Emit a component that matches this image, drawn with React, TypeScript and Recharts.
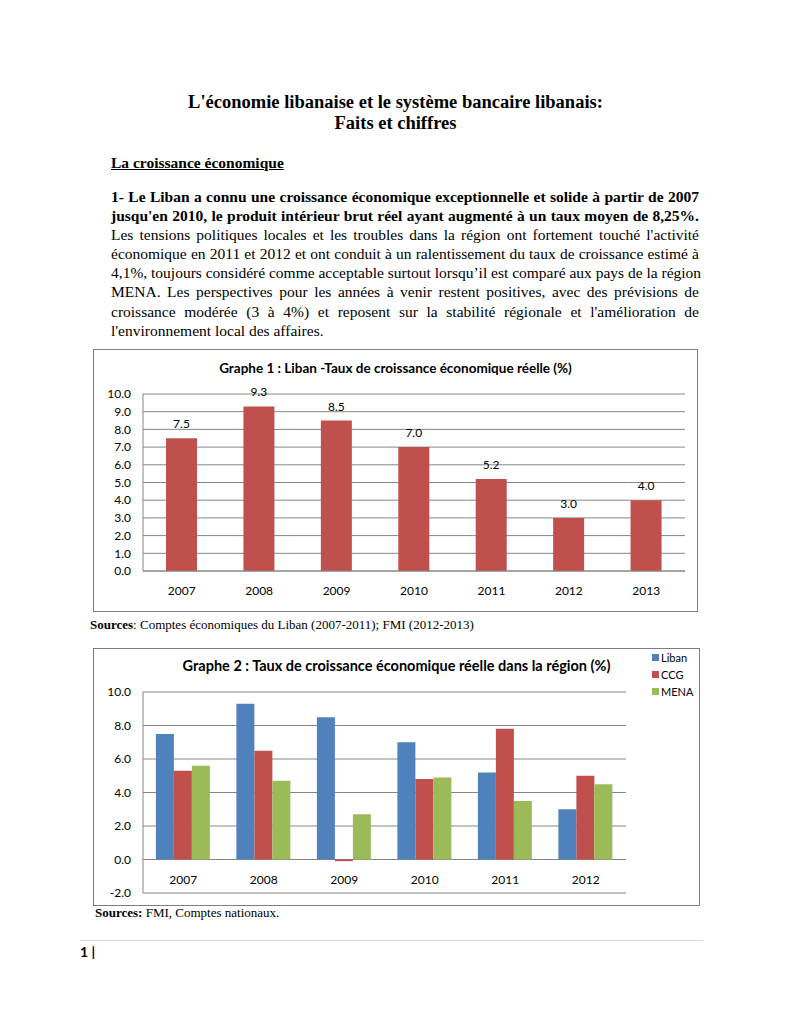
import React from "react";
import {
  BarChart,
  Bar,
  XAxis,
  YAxis,
  CartesianGrid,
  LabelList,
} from "recharts";

// Graphe 1
const years1 = ["2007", "2008", "2009", "2010", "2011", "2012", "2013"];
const liban1 = [7.5, 9.3, 8.5, 7.0, 5.2, 3.0, 4.0];
const ticks1 = [0, 1, 2, 3, 4, 5, 6, 7, 8, 9, 10];

// Graphe 2
const years2 = ["2007", "2008", "2009", "2010", "2011", "2012"];
const liban2 = [7.5, 9.3, 8.5, 7.0, 5.2, 3.0];
const ccg2 = [5.3, 6.5, -0.1, 4.8, 7.8, 5.0];
const mena2 = [5.6, 4.7, 2.7, 4.9, 3.5, 4.5];
const ticks2 = [-2, 0, 2, 4, 6, 8, 10];

const series2 = [
  { key: "liban", name: "Liban", color: "#4F81BD" },
  { key: "ccg", name: "CCG", color: "#C0504D" },
  { key: "mena", name: "MENA", color: "#9BBB59" },
];

const data1 = years1.map((y, i) => ({ year: y, value: liban1[i] }));
const data2 = years2.map((y, i) => ({
  year: y,
  liban: liban2[i],
  ccg: ccg2[i],
  mena: mena2[i],
}));

const chartFont = "Lato, 'Open Sans', sans-serif";
const serif = "'Liberation Serif', 'Times New Roman', serif";
const grid = "#868686";

const fmt = (v: number) => v.toFixed(1);

const paraLines = [
  { text: "1- Le Liban a connu une croissance économique exceptionnelle et solide à partir de 2007", bold: true },
  { text: "jusqu'en 2010, le produit intérieur brut réel ayant augmenté à un taux moyen de 8,25%.", bold: true },
  { text: "Les tensions politiques locales et les troubles dans la région ont fortement touché l'activité", bold: false },
  { text: "économique en 2011 et 2012 et ont conduit à un ralentissement du taux de croissance estimé à", bold: false },
  { text: "4,1%, toujours considéré comme acceptable surtout lorsqu’il est comparé aux pays de la région", bold: false },
  { text: "MENA. Les perspectives pour les années à venir restent positives, avec des prévisions de", bold: false },
  { text: "croissance modérée (3 à 4%) et reposent sur la stabilité régionale et l'amélioration de", bold: false },
  { text: "l'environnement local des affaires.", bold: false },
];

function Year2Tick(props: any) {
  const { x, y, payload } = props;
  return (
    <text x={x} y={y - 17} textAnchor="middle" fontSize={12} fill="#000" fontFamily={chartFont}>
      {payload.value}
    </text>
  );
}

export default function App() {
  return (
    <div
      style={{
        position: "relative",
        width: 791,
        height: 1024,
        background: "#fff",
        fontFamily: serif,
        color: "#000",
      }}
    >
      <style>{`body{margin:0}`}</style>

      {/* Title */}
      <div
        style={{
          position: "absolute",
          top: 92,
          left: 0,
          width: 791,
          textAlign: "center",
          fontWeight: "bold",
          fontSize: 18.5,
          lineHeight: "21px",
        }}
      >
        L'économie libanaise et le système bancaire libanais:
        <br />
        Faits et chiffres
      </div>

      <div
        style={{
          position: "absolute",
          top: 153,
          left: 111,
          fontWeight: "bold",
          fontSize: 15.5,
          lineHeight: "19px",
          textDecoration: "underline",
        }}
      >
        La croissance économique
      </div>

      <div style={{ position: "absolute", top: 187, left: 111, width: 588 }}>
        {paraLines.map((l, i) => (
          <div
            key={i}
            style={{
              fontSize: 15.5,
              lineHeight: "19.1px",
              fontWeight: l.bold ? "bold" : "normal",
              textAlign: "justify",
              textAlignLast: i === paraLines.length - 1 ? "left" : "justify",
              whiteSpace: "nowrap",
            }}
          >
            {l.text}
          </div>
        ))}
      </div>

      {/* Graphe 1 */}
      <div style={{ position: "absolute", left: 93, top: 349, width: 605, height: 263 }}>
        <div
          style={{
            position: "absolute",
            inset: 0,
            border: "1px solid #7f7f7f",
            boxSizing: "border-box",
          }}
        />
        <div
          style={{
            position: "absolute",
            top: 11,
            left: 0,
            width: 605,
            textAlign: "center",
            fontFamily: chartFont,
            fontWeight: "bold",
            fontSize: 13.5,
          }}
        >
          Graphe 1 : Liban -Taux de croissance économique réelle (%)
        </div>
        <div style={{ position: "absolute", left: 0, top: 0 }}>
          <BarChart
            width={605}
            height={263}
            data={data1}
            margin={{ top: 45, right: 13, left: 0, bottom: 0 }}
          >
            <CartesianGrid vertical={false} stroke={grid} />
            <XAxis
              dataKey="year"
              height={41}
              axisLine={{ stroke: grid }}
              tickLine={false}
              tickMargin={9}
              tick={{ fontSize: 12, fill: "#000", fontFamily: chartFont }}
            />
            <YAxis
              width={50}
              domain={[0, 10]}
              ticks={ticks1}
              interval={0}
              tickFormatter={fmt}
              axisLine={{ stroke: grid }}
              tickLine={false}
              tickMargin={6}
              tick={{ fontSize: 12, fill: "#000", fontFamily: chartFont }}
            />
            <Bar dataKey="value" fill="#C0504D" barSize={31} isAnimationActive={false}>
              <LabelList
                dataKey="value"
                position="top"
                offset={10}
                formatter={(v: any) => fmt(Number(v))}
                style={{ fontSize: 12, fill: "#000", fontFamily: chartFont }}
              />
            </Bar>
          </BarChart>
        </div>
      </div>

      <div style={{ position: "absolute", left: 90, top: 617, fontSize: 13, lineHeight: "16px" }}>
        <b>Sources</b>: Comptes économiques du Liban (2007-2011); FMI (2012-2013)
      </div>

      {/* Graphe 2 */}
      <div style={{ position: "absolute", left: 93, top: 648, width: 607, height: 258 }}>
        <div
          style={{
            position: "absolute",
            inset: 0,
            border: "1px solid #7f7f7f",
            boxSizing: "border-box",
          }}
        />
        <div
          style={{
            position: "absolute",
            top: 9,
            left: 0,
            width: 607,
            textAlign: "center",
            fontFamily: chartFont,
            fontWeight: "bold",
            fontSize: 14.5,
          }}
        >
          Graphe 2 : Taux de croissance économique réelle dans la région (%)
        </div>
        <div style={{ position: "absolute", left: 0, top: 0 }}>
          <BarChart
            width={607}
            height={258}
            data={data2}
            barCategoryGap="16%"
            barGap={0}
            margin={{ top: 44, right: 74, left: 0, bottom: 0 }}
          >
            <CartesianGrid vertical={false} stroke={grid} />
            <XAxis
              dataKey="year"
              height={13}
              axisLine={false}
              tickLine={false}
              tick={<Year2Tick />}
            />
            <YAxis
              width={50}
              domain={[-2, 10]}
              ticks={ticks2}
              interval={0}
              tickFormatter={fmt}
              axisLine={{ stroke: grid }}
              tickLine={false}
              tickMargin={6}
              tick={{ fontSize: 12, fill: "#000", fontFamily: chartFont }}
            />
            {series2.map((s) => (
              <Bar
                key={s.key}
                dataKey={s.key}
                name={s.name}
                fill={s.color}
                isAnimationActive={false}
              />
            ))}
          </BarChart>
        </div>
        <div style={{ position: "absolute", left: 559, top: 1, fontFamily: chartFont, fontSize: 11 }}>
          {series2.map((s) => (
            <div key={s.key} style={{ display: "flex", alignItems: "center", height: 17 }}>
              <span
                style={{ display: "inline-block", width: 7, height: 7, background: s.color, marginRight: 2 }}
              />
              <span>{s.name}</span>
            </div>
          ))}
        </div>
      </div>

      <div style={{ position: "absolute", left: 95, top: 905, fontSize: 13, lineHeight: "16px" }}>
        <b>Sources:</b> FMI, Comptes nationaux.
      </div>

      <div
        style={{
          position: "absolute",
          left: 80,
          top: 940,
          width: 623,
          height: 1,
          background: "#d9d9d9",
        }}
      />
      <div
        style={{
          position: "absolute",
          left: 80,
          top: 943,
          fontFamily: chartFont,
          fontWeight: "bold",
          fontSize: 14,
        }}
      >
        1 |
      </div>
    </div>
  );
}
